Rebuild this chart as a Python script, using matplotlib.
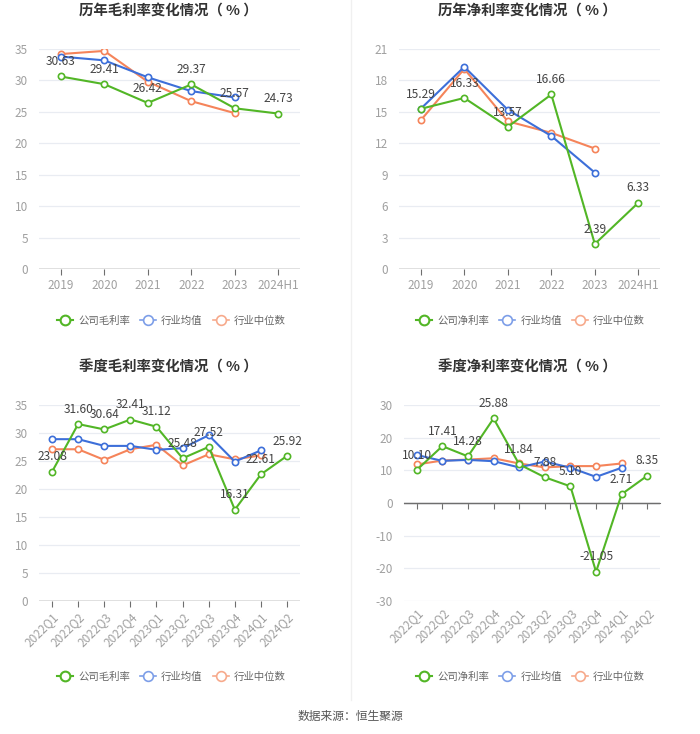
import matplotlib
matplotlib.use('Agg')
import matplotlib.pyplot as plt
from matplotlib.lines import Line2D

plt.rcParams['font.family'] = ['Noto Sans CJK SC', 'DejaVu Sans']
plt.rcParams['axes.unicode_minus'] = False

# ── data ──────────────────────────────────────────────────────────────────
years = ['2019', '2020', '2021', '2022', '2023', '2024H1']
quarters = ['2022Q1', '2022Q2', '2022Q3', '2022Q4', '2023Q1', '2023Q2',
            '2023Q3', '2023Q4', '2024Q1', '2024Q2']

year_gross_co = [30.63, 29.41, 26.42, 29.37, 25.57, 24.73]
year_gross_avg = [33.8, 33.2, 30.5, 28.3, 27.3]
year_gross_med = [34.2, 34.7, 29.8, 26.7, 24.8]

year_net_co = [15.29, 16.33, 13.57, 16.66, 2.39, 6.33]
year_net_avg = [15.3, 19.3, 15.2, 12.7, 9.2]
year_net_med = [14.2, 19.1, 14.1, 13.0, 11.5]

q_gross_co = [23.08, 31.60, 30.64, 32.41, 31.12, 25.48, 27.52, 16.31, 22.61, 25.92]
q_gross_avg = [28.9, 28.9, 27.7, 27.7, 27.0, 27.3, 29.6, 24.9, 26.9]
q_gross_med = [27.1, 27.1, 25.2, 27.1, 27.9, 24.2, 26.2, 25.3, 26.0]

q_net_co = [10.10, 17.41, 14.28, 25.88, 11.84, 7.88, 5.10, -21.05, 2.71, 8.35]
q_net_avg = [14.7, 12.9, 13.2, 12.8, 10.9, 12.7, 10.8, 8.0, 10.8]
q_net_med = [11.8, 13.0, 13.3, 13.7, 12.1, 10.9, 11.3, 11.3, 12.1]

# ── style ─────────────────────────────────────────────────────────────────
GREEN = '#52b626'
BLUE = '#3d6fd9'
ORANGE = '#f5845a'
GRID = '#e9ecf2'
TICK = '#a0a0a0'
AXIS = '#6e6e6e'


def draw_panel(ax, cats, co, avg, med, ylim, step, rotate=False):
    x = list(range(len(cats)))
    ax.plot(x[:len(med)], med, color=ORANGE, lw=1.5, marker='o', ms=4.5,
            mfc='white', mew=1.2, zorder=3)
    ax.plot(x[:len(avg)], avg, color=BLUE, lw=1.5, marker='o', ms=4.5,
            mfc='white', mew=1.2, zorder=4)
    ax.plot(x, co, color=GREEN, lw=1.5, marker='o', ms=4.5,
            mfc='white', mew=1.2, zorder=5)
    for xi, v in zip(x, co):
        ax.annotate(f'{v:.2f}', (xi, v), xytext=(0, 6), textcoords='offset points',
                    ha='center', va='bottom', fontsize=8.6, color='#444444', zorder=6)

    ax.set_xlim(-0.5, len(cats) - 0.5)
    ax.set_ylim(*ylim)
    ax.set_yticks(range(ylim[0], ylim[1] + 1, step))
    ax.set_xticks(x)
    if rotate:
        ax.set_xticklabels(cats, rotation=45, ha='right', rotation_mode='anchor')
    else:
        ax.set_xticklabels(cats)
    ax.tick_params(axis='y', length=0, labelsize=8.5, labelcolor=TICK, pad=8)
    ax.grid(axis='y', color=GRID, lw=0.9)
    ax.set_axisbelow(True)
    for s in ['top', 'right', 'left', 'bottom']:
        ax.spines[s].set_visible(False)

    if ylim[0] < 0:
        # category axis sits on the zero line; labels stay at the bottom
        ax.tick_params(axis='x', length=0, labelsize=8.5, labelcolor=TICK, pad=4)
        zero = -ylim[0] / (ylim[1] - ylim[0])
        sec = ax.secondary_xaxis(zero)
        sec.set_xticks(x)
        sec.set_xticklabels([])
        sec.tick_params(axis='x', direction='out', length=4, color=AXIS)
        sec.spines['bottom'].set_color(AXIS)
        sec.spines['top'].set_visible(False)
        for side in ['left', 'right']:
            if side in sec.spines:
                sec.spines[side].set_visible(False)
        sec.xaxis.set_ticks_position('bottom')
        sec.spines['bottom'].set_visible(True)
        ax.axhline(0, color=AXIS, lw=1.0, zorder=2)
    else:
        ax.tick_params(axis='x', length=4, color=AXIS, labelsize=8.5,
                       labelcolor=TICK, pad=3)
        ax.axhline(0, color=AXIS, lw=1.0, zorder=2)


fig = plt.figure(figsize=(7.0, 7.34), dpi=100)

ax1 = fig.add_axes([0.0557, 0.6335, 0.373, 0.2997])
ax2 = fig.add_axes([0.570, 0.6335, 0.373, 0.2997])
ax3 = fig.add_axes([0.0557, 0.1812, 0.373, 0.267])
ax4 = fig.add_axes([0.577, 0.1812, 0.366, 0.267])

draw_panel(ax1, years, year_gross_co, year_gross_avg, year_gross_med, (0, 35), 5)
draw_panel(ax2, years, year_net_co, year_net_avg, year_net_med, (0, 21), 3)
draw_panel(ax3, quarters, q_gross_co, q_gross_avg, q_gross_med, (0, 35), 5, rotate=True)
draw_panel(ax4, quarters, q_net_co, q_net_avg, q_net_med, (-30, 30), 10, rotate=True)

titles = ['历年毛利率变化情况（ % ）', '历年净利率变化情况（ % ）',
          '季度毛利率变化情况（ % ）', '季度净利率变化情况（ % ）']
for title, (tx, ty) in zip(titles, [(168, 12), (527, 12), (168, 367), (527, 367)]):
    fig.text(tx / 700, 1 - ty / 734, title, ha='center', va='center',
             fontsize=10.4, fontweight='bold', color='#333333')


def legend_handles(first):
    return [
        Line2D([0], [0], color=GREEN, lw=1.5, marker='o', ms=7, mfc='white',
               mew=1.5, label=first),
        Line2D([0], [0], color='#7d9ee8', lw=1.2, marker='o', ms=7, mfc='white',
               mew=1.2, label='行业均值'),
        Line2D([0], [0], color='#f7aa8c', lw=1.2, marker='o', ms=7, mfc='white',
               mew=1.2, label='行业中位数'),
    ]


for cx, cy, first in [(0.245, 321, '公司毛利率'), (0.758, 321, '公司净利率'),
                      (0.245, 677, '公司毛利率'), (0.758, 677, '公司净利率')]:
    fig.legend(handles=legend_handles(first), loc='center',
               bbox_to_anchor=(cx, 1 - cy / 734), ncol=3, frameon=False,
               fontsize=7.5, handlelength=1.5, handletextpad=0.5,
               columnspacing=1.0, labelcolor='#666666')

# faint divider between left and right panels
fig.add_artist(Line2D([0.502, 0.502], [1 - 700 / 734, 1.0], color='#f0f0f0', lw=1))

fig.text(0.5, 1 - 716 / 734, '数据来源：恒生聚源', ha='center', va='center',
         fontsize=8.5, color='#555555')

fig.savefig('out.png', dpi=100, facecolor='white')
